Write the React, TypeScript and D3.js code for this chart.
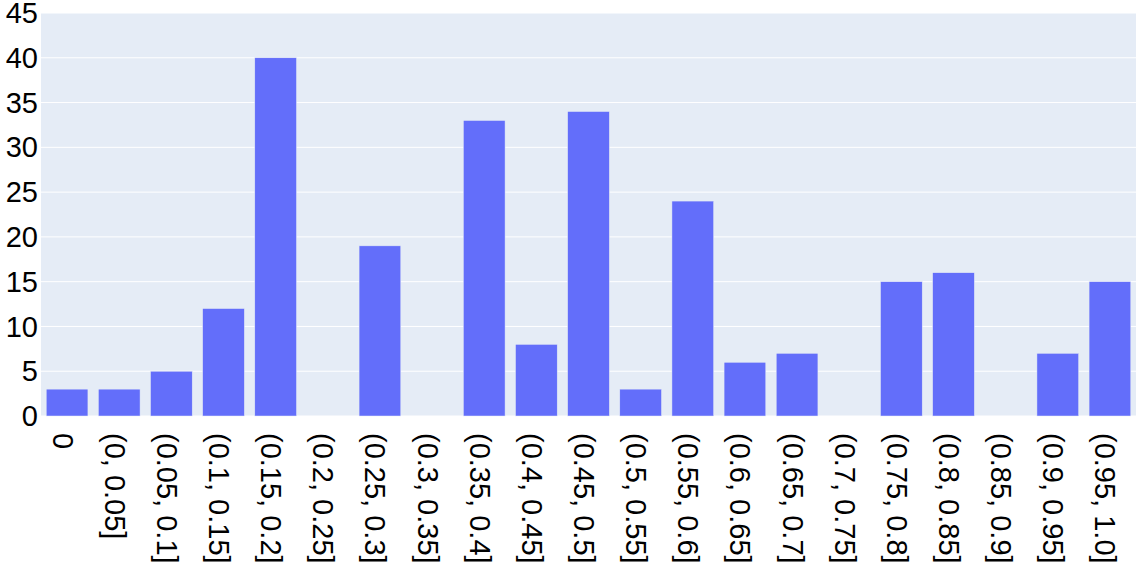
import React from "react";
import * as d3 from "d3";

const categories = [
  "0", "(0, 0.05]", "(0.05, 0.1]", "(0.1, 0.15]", "(0.15, 0.2]", "(0.2, 0.25]",
  "(0.25, 0.3]", "(0.3, 0.35]", "(0.35, 0.4]", "(0.4, 0.45]", "(0.45, 0.5]",
  "(0.5, 0.55]", "(0.55, 0.6]", "(0.6, 0.65]", "(0.65, 0.7]", "(0.7, 0.75]",
  "(0.75, 0.8]", "(0.8, 0.85]", "(0.85, 0.9]", "(0.9, 0.95]", "(0.95, 1.0]",
];
const counts = [3, 3, 5, 12, 40, 0, 19, 0, 33, 8, 34, 3, 24, 6, 7, 0, 15, 16, 0, 7, 15];
const yTicks = [0, 5, 10, 15, 20, 25, 30, 35, 40, 45];

const W = 1136;
const H = 570;
const left = 41;
const right = 1136;
const top = 13;
const bottom = 416;
const font = "'Liberation Sans', Arial, sans-serif";
const fs = 29;

export default function App() {
  const x = d3.scaleBand<string>().domain(categories).range([left, right]).paddingInner(0.2).paddingOuter(0.1);
  const y = d3.scaleLinear().domain([0, 45]).range([bottom, top]);

  return (
    <svg width={W} height={H} style={{ position: "absolute", left: 0, top: 0 }}>
      <rect x={left} y={top} width={right - left} height={bottom - top} fill="#E5ECF6" />
      {yTicks.map((t) => (
        <line key={"g" + t} x1={left} x2={right} y1={y(t)} y2={y(t)} stroke="#fff" strokeWidth={1} />
      ))}
      {categories.map((c, i) => (
        <rect
          key={c}
          x={x(c)}
          y={y(counts[i])}
          width={x.bandwidth()}
          height={Math.max(0, bottom - y(counts[i]))}
          fill="#636efa"
          stroke="#E5ECF6"
          strokeWidth={0.5}
        />
      ))}
      {yTicks.map((t) => (
        <text key={"t" + t} x={38} y={y(t)} dy="0.35em" textAnchor="end" fontFamily={font} fontSize={fs} fill="#000">
          {t}
        </text>
      ))}
      {categories.map((c) => {
        const cx = (x(c) as number) + x.bandwidth() / 2;
        const cy = 433;
        return (
          <text
            key={"l" + c}
            transform={`translate(${cx},${cy}) rotate(90)`}
            dy="0.5em"
            textAnchor="start"
            fontFamily={font}
            fontSize={fs}
            fill="#000"
          >
            {c}
          </text>
        );
      })}
    </svg>
  );
}
